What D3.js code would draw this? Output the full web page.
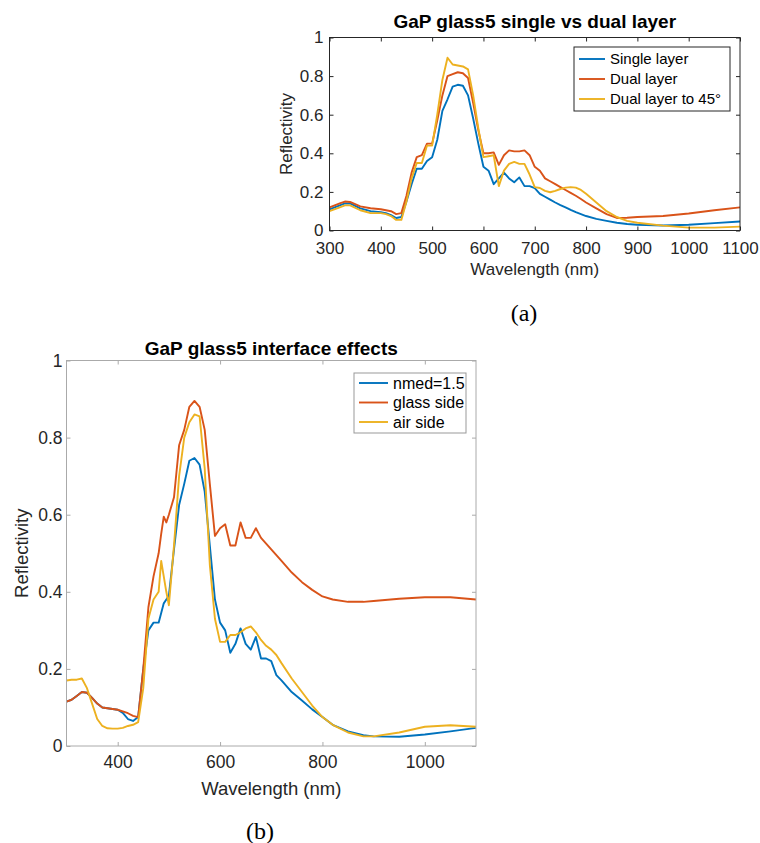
<!DOCTYPE html>
<html>
<head>
<meta charset="utf-8">
<script src="https://cdn.jsdelivr.net/npm/d3@7"></script>
<style>
  body { margin: 0; background: #fff; }
  svg { display: block; }
  .tick text { fill: #262626; }
</style>
</head>
<body>
<svg id="fig" width="760" height="843"></svg>
<script>
// ---- chart (a) data: GaP glass5 single vs dual layer ----
const aWl = [300,320,330,340,360,380,400,410,420,430,440,450,460,470,480,490,500,510,520,530,540,550,560,570,580,590,600,610,620,630,640,650,660,670,680,690,700,710,720,730,740,750,760,770,780,790,800,820,840,860,880,900,950,1000,1050,1100];
const aSingle = [.11,.13,.14,.14,.115,.10,.095,.09,.08,.065,.07,.15,.24,.32,.32,.36,.38,.47,.62,.68,.745,.755,.75,.70,.58,.45,.33,.31,.24,.27,.30,.27,.25,.275,.23,.23,.22,.19,.175,.16,.145,.132,.12,.107,.095,.085,.075,.06,.05,.04,.034,.03,.026,.03,.038,.047];
const aDual = [.12,.14,.15,.148,.125,.115,.11,.105,.10,.085,.09,.18,.30,.38,.39,.45,.45,.57,.70,.80,.81,.82,.815,.79,.66,.52,.40,.40,.405,.34,.39,.415,.41,.41,.415,.39,.33,.31,.27,.255,.24,.225,.21,.195,.18,.163,.145,.115,.085,.065,.066,.07,.075,.088,.105,.12];
const aDual45 = [.10,.12,.13,.13,.105,.09,.09,.085,.075,.055,.055,.15,.27,.35,.35,.44,.44,.60,.78,.895,.86,.855,.85,.835,.70,.53,.38,.385,.39,.23,.31,.345,.355,.345,.345,.29,.225,.22,.205,.198,.205,.215,.222,.225,.222,.21,.19,.145,.10,.07,.05,.04,.025,.015,.015,.02];
const aNames = ['Single layer', 'Dual layer', 'Dual layer to 45°'];

// ---- chart (b) data: GaP glass5 interface effects ----
const bWl = [300,310,320,330,340,350,360,370,380,390,400,410,420,430,440,450,460,470,480,485,490,495,500,510,520,530,540,550,560,570,580,590,600,610,620,630,640,650,660,670,680,690,700,710,720,740,760,780,800,820,850,880,900,950,1000,1050,1100];
const bNmed = [.115,.12,.13,.14,.138,.125,.11,.10,.098,.096,.094,.086,.07,.065,.075,.20,.30,.32,.32,.345,.37,.38,.39,.51,.625,.68,.74,.747,.73,.66,.52,.38,.32,.30,.242,.265,.305,.265,.25,.283,.227,.227,.22,.184,.17,.14,.118,.095,.075,.055,.038,.028,.025,.024,.03,.038,.047];
const bGlass = [.115,.12,.13,.14,.138,.125,.11,.10,.098,.096,.094,.09,.085,.078,.075,.20,.36,.44,.50,.55,.595,.58,.60,.645,.78,.82,.88,.895,.88,.82,.68,.545,.565,.575,.52,.52,.58,.54,.54,.565,.54,.525,.51,.495,.48,.45,.425,.405,.388,.38,.374,.374,.376,.382,.386,.386,.38];
const bAir = [.17,.172,.172,.175,.15,.11,.07,.052,.046,.045,.045,.047,.052,.055,.062,.15,.33,.38,.40,.48,.44,.40,.365,.52,.70,.80,.84,.86,.855,.72,.47,.33,.27,.27,.288,.288,.295,.305,.31,.295,.275,.26,.25,.236,.215,.175,.14,.105,.075,.055,.035,.025,.025,.035,.05,.054,.05];
const bNames = ['nmed=1.5', 'glass side', 'air side'];

const colors = ['#0072BD', '#D95319', '#EDB120'];
const yTicks = [0, 0.2, 0.4, 0.6, 0.8, 1];

const svg = d3.select('#fig');
const font = '"Liberation Sans", Arial, Helvetica, sans-serif';

function drawChart(cfg) {
  const x = d3.scaleLinear().domain([300, 1100]).range([cfg.left, cfg.right]);
  const y = d3.scaleLinear().domain([0, 1]).range([cfg.bottom, cfg.top]);
  const g = svg.append('g').attr('font-family', font);

  // lines
  const line = d3.line().x(d => x(d[0])).y(d => y(d[1]));
  cfg.series.forEach((s, i) => {
    g.append('path')
      .datum(cfg.wl.map((w, j) => [w, s[j]]))
      .attr('fill', 'none')
      .attr('stroke', colors[i])
      .attr('stroke-width', 1.9)
      .attr('stroke-linejoin', 'round')
      .attr('d', line);
  });

  // axes, MATLAB style: ticks inside, box on
  const tk = 4;
  g.append('g').attr('transform', `translate(0,${cfg.bottom})`)
    .call(d3.axisBottom(x).tickValues(cfg.xTicks).tickFormat(d3.format('d'))
      .tickSizeInner(-tk).tickSizeOuter(0).tickPadding(cfg.xPad))
    .call(a => a.selectAll('text').attr('font-size', cfg.tickFs));
  g.append('g').attr('transform', `translate(0,${cfg.top})`)
    .call(d3.axisTop(x).tickValues(cfg.xTicks).tickFormat('')
      .tickSizeInner(-tk).tickSizeOuter(0));
  g.append('g').attr('transform', `translate(${cfg.left},0)`)
    .call(d3.axisLeft(y).tickValues(yTicks).tickFormat(d3.format('~g'))
      .tickSizeInner(-tk).tickSizeOuter(0).tickPadding(cfg.yPad))
    .call(a => a.selectAll('text').attr('font-size', cfg.tickFs));
  g.append('g').attr('transform', `translate(${cfg.right},0)`)
    .call(d3.axisRight(y).tickValues(yTicks).tickFormat('')
      .tickSizeInner(-tk).tickSizeOuter(0));
  g.selectAll('.domain').remove();
  g.selectAll('.tick line').attr('stroke', cfg.boxColor);

  g.append('rect')
    .attr('x', cfg.left).attr('y', cfg.top)
    .attr('width', cfg.right - cfg.left).attr('height', cfg.bottom - cfg.top)
    .attr('fill', 'none').attr('stroke', cfg.boxColor).attr('stroke-width', 1);

  // title and axis labels
  const cx = (cfg.left + cfg.right) / 2;
  g.append('text').attr('x', cx).attr('y', cfg.titleY)
    .attr('text-anchor', 'middle').attr('font-weight', 'bold')
    .attr('font-size', 19).attr('fill', '#000').text(cfg.title);
  g.append('text').attr('x', cx).attr('y', cfg.xLabelY)
    .attr('text-anchor', 'middle').attr('font-size', cfg.labelFs)
    .attr('fill', '#262626').text('Wavelength (nm)');
  g.append('text')
    .attr('transform', `translate(${cfg.yLabelX},${(cfg.top + cfg.bottom) / 2}) rotate(-90)`)
    .attr('text-anchor', 'middle').attr('font-size', cfg.labelFs)
    .attr('fill', '#262626').text('Reflectivity');

  // legend
  const L = cfg.legend;
  g.append('rect').attr('x', L.x).attr('y', L.y).attr('width', L.w).attr('height', L.h)
    .attr('fill', '#fff').attr('stroke', L.stroke).attr('stroke-width', 1);
  cfg.names.forEach((n, i) => {
    const ly = L.y + L.first + i * L.step;
    g.append('line').attr('x1', L.x + 5).attr('x2', L.x + 5 + L.len)
      .attr('y1', ly).attr('y2', ly)
      .attr('stroke', colors[i]).attr('stroke-width', 1.9);
    g.append('text').attr('x', L.x + 10 + L.len).attr('y', ly).attr('dy', '0.35em')
      .attr('font-size', L.fs).attr('fill', '#000').text(n);
  });

  // caption
  svg.append('text').attr('x', cfg.capX).attr('y', cfg.capY)
    .attr('text-anchor', 'middle').attr('font-family', '"Liberation Serif", "Times New Roman", serif')
    .attr('font-size', 24).attr('fill', '#000').text(cfg.caption);
}

drawChart({
  left: 329.5, right: 740, top: 37.5, bottom: 230.5,
  wl: aWl, series: [aSingle, aDual, aDual45], names: aNames,
  xTicks: [300,400,500,600,700,800,900,1000,1100],
  title: 'GaP glass5 single vs dual layer', titleY: 28,
  xLabelY: 275, yLabelX: 292, tickFs: 17, labelFs: 17, xPad: 11, yPad: 6,
  boxColor: '#262626',
  legend: { x: 574, y: 47, w: 156, h: 64, first: 12, step: 20, len: 26, fs: 15, stroke: '#262626' },
  caption: '(a)', capX: 524, capY: 321
});

drawChart({
  left: 66.5, right: 476, top: 360.5, bottom: 746,
  wl: bWl, series: [bNmed, bGlass, bAir], names: bNames,
  xTicks: [400,600,800,1000],
  title: 'GaP glass5 interface effects', titleY: 355,
  xLabelY: 795, yLabelX: 28, tickFs: 17.5, labelFs: 18.5, xPad: 10, yPad: 4,
  boxColor: '#aaaaaa',
  legend: { x: 354, y: 373, w: 112, h: 60, first: 10, step: 19.5, len: 29, fs: 16, stroke: '#999999' },
  caption: '(b)', capX: 260, capY: 839
});
</script>
</body>
</html>
